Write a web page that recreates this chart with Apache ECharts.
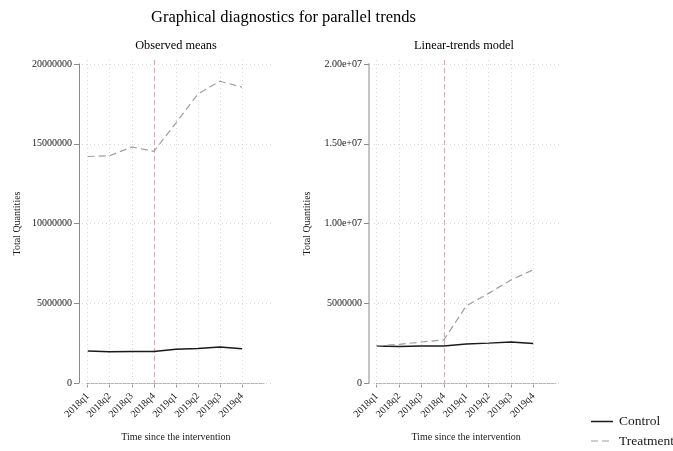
<!DOCTYPE html>
<html>
<head>
<meta charset="utf-8">
<script src="https://cdn.jsdelivr.net/npm/echarts@6/dist/echarts.min.js"></script>
<style>
  html, body { margin: 0; padding: 0; background: #fff; }
  #chart { width: 673px; height: 451px; }
</style>
</head>
<body>
<div id="chart"></div>
<script>
// Quarters shown on both panels
const quarters = ['2018q1', '2018q2', '2018q3', '2018q4', '2019q1', '2019q2', '2019q3', '2019q4'];

// Observed group means
const observedControl   = [2000000, 1960000, 1980000, 1980000, 2120000, 2170000, 2250000, 2150000];
const observedTreatment = [14200000, 14250000, 14800000, 14520000, 16300000, 18120000, 18920000, 18550000];

// Fitted values from the linear-trends model
const linearControl   = [2320000, 2290000, 2320000, 2320000, 2440000, 2500000, 2570000, 2470000];
const linearTreatment = [2320000, 2420000, 2570000, 2700000, 4830000, 5620000, 6460000, 7100000];

// Y tick labels (index = value / 5,000,000)
const leftTicks  = ['0', '5000000', '10000000', '15000000', '20000000'];
const rightTicks = ['0', '5000000', '1.00e+07', '1.50e+07', '2.00e+07'];

// Legend entries
const groups = ['Control', 'Treatment'];

const treatmentQuarter = 3; // 2018q4

const serif = '"Liberation Serif", "DejaVu Serif", serif';
const ink = '#1a1a1a';
const gridColor = '#d9d9d9';
const controlStyle = { color: ink, width: 1.5 };
const treatmentStyle = { color: '#9e9e9e', width: 1.2, type: [7, 4] };

// Panel geometry: inner box holds the data axes, outer box holds the dotted grid
const panels = [
  { inner: { left: 87.7, top: 64, width: 176.3, height: 319 }, outer: { left: 82, top: 57, width: 190, height: 328 }, ticks: leftTicks, yLine: '#8a8a8a', yWidth: 1, yOffset: 8.7 },
  { inner: { left: 376.7, top: 64, width: 179, height: 319 }, outer: { left: 374, top: 57, width: 187.7, height: 328 }, ticks: rightTicks, yLine: '#c4c4c4', yWidth: 2, yOffset: 7.7 }
];

const xLabels = quarters.concat(['']);
const yMax = 20000000, yStep = 5000000;

const grids = [], xAxes = [], yAxes = [], series = [];

panels.forEach((p, k) => {
  // inner grid: data axes
  grids.push(Object.assign({ containLabel: false }, p.inner));
  const pxPerIdx = p.inner.width / 8;
  const pxPerVal = p.inner.height / yMax;
  xAxes.push({
    gridIndex: 2 * k, type: 'category', data: xLabels, boundaryGap: false,
    offset: 7.7,
    axisLine: { show: true, lineStyle: { color: '#b5b5b5', width: 1 } },
    axisTick: { show: true, length: 4.5, interval: (i) => i < quarters.length, lineStyle: { color: '#9a9a9a' } },
    axisLabel: { rotate: 45, margin: 4, fontSize: 10, fontFamily: serif, color: ink, interval: 0 },
    splitLine: { show: false },
    name: 'Time since the intervention', nameLocation: 'middle', nameGap: 42,
    nameTextStyle: { fontSize: 10, fontFamily: serif, color: ink }
  });
  yAxes.push({
    gridIndex: 2 * k, type: 'value', min: 0, max: yMax, interval: yStep,
    offset: p.yOffset,
    axisLine: { show: true, lineStyle: { color: p.yLine, width: p.yWidth } },
    axisTick: { show: true, length: 5, lineStyle: { color: '#8a8a8a' } },
    axisLabel: { margin: 7, fontSize: 10, fontFamily: serif, color: ink, formatter: (v) => p.ticks[Math.round(v / yStep)] },
    splitLine: { show: false },
    name: 'Total Quantities', nameLocation: 'middle', nameGap: 57,
    nameTextStyle: { fontSize: 10, fontFamily: serif, color: ink }
  });

  // outer grid: dotted reference lines, same scale as the inner grid
  grids.push(Object.assign({ containLabel: false }, p.outer));
  const xMin = (p.outer.left - p.inner.left) / pxPerIdx;
  const xMaxO = (p.outer.left + p.outer.width - p.inner.left) / pxPerIdx;
  const yTopO = (p.inner.top + p.inner.height - p.outer.top) / pxPerVal;
  const yBotO = (p.inner.top + p.inner.height - (p.outer.top + p.outer.height)) / pxPerVal;
  xAxes.push({ gridIndex: 2 * k + 1, type: 'value', min: xMin, max: xMaxO, show: false });
  yAxes.push({ gridIndex: 2 * k + 1, type: 'value', min: yBotO, max: yTopO, show: false });

  const dotted = { color: gridColor, type: [1, 3], width: 1 };
  const lines = [];
  quarters.forEach((q, i) => {
    if (i !== treatmentQuarter) lines.push({ xAxis: i, lineStyle: dotted });
  });
  for (let v = 0; v <= yMax; v += yStep) lines.push({ yAxis: v, lineStyle: dotted });
  lines.push({ xAxis: treatmentQuarter, lineStyle: { color: '#d2aeb5', type: [5, 3], width: 1.2 } });

  series.push({
    type: 'line', xAxisIndex: 2 * k + 1, yAxisIndex: 2 * k + 1, data: [], silent: true,
    markLine: { silent: true, symbol: 'none', label: { show: false }, animation: false, data: lines }
  });

  const ctrl = k === 0 ? observedControl : linearControl;
  const trt  = k === 0 ? observedTreatment : linearTreatment;
  series.push({
    name: groups[0], type: 'line', xAxisIndex: 2 * k, yAxisIndex: 2 * k,
    data: ctrl, symbol: 'none', lineStyle: controlStyle, z: 5
  });
  series.push({
    name: groups[1], type: 'line', xAxisIndex: 2 * k, yAxisIndex: 2 * k,
    data: trt, symbol: 'none', lineStyle: treatmentStyle, z: 5
  });
});

// Legend key drawn at the lower right
const legendItems = [];
groups.forEach((g, i) => {
  const y = 421.5 + i * 19.5;
  const st = i === 0 ? controlStyle : treatmentStyle;
  legendItems.push({
    type: 'line', shape: { x1: 591, y1: y, x2: 613, y2: y },
    style: { stroke: st.color, lineWidth: st.width, lineDash: st.type ? st.type : null }
  });
  legendItems.push({
    type: 'text', x: 619, y: y,
    style: { text: g, font: '13.5px ' + serif, fill: ink, align: 'left', verticalAlign: 'middle' }
  });
});

const chart = echarts.init(document.getElementById('chart'), null, { renderer: 'canvas' });
chart.setOption({
  animation: false,
  backgroundColor: '#fff',
  grid: grids,
  xAxis: xAxes,
  yAxis: yAxes,
  series: series,
  graphic: [
    { type: 'text', x: 283.5, y: 17.5, style: { text: 'Graphical diagnostics for parallel trends', font: '16.5px ' + serif, fill: '#000', align: 'center', verticalAlign: 'middle' } },
    { type: 'text', x: 176, y: 46, style: { text: 'Observed means', font: '12.3px ' + serif, fill: '#000', align: 'center', verticalAlign: 'middle' } },
    { type: 'text', x: 464, y: 46, style: { text: 'Linear-trends model', font: '12.3px ' + serif, fill: '#000', align: 'center', verticalAlign: 'middle' } }
  ].concat(legendItems)
});
</script>
</body>
</html>
